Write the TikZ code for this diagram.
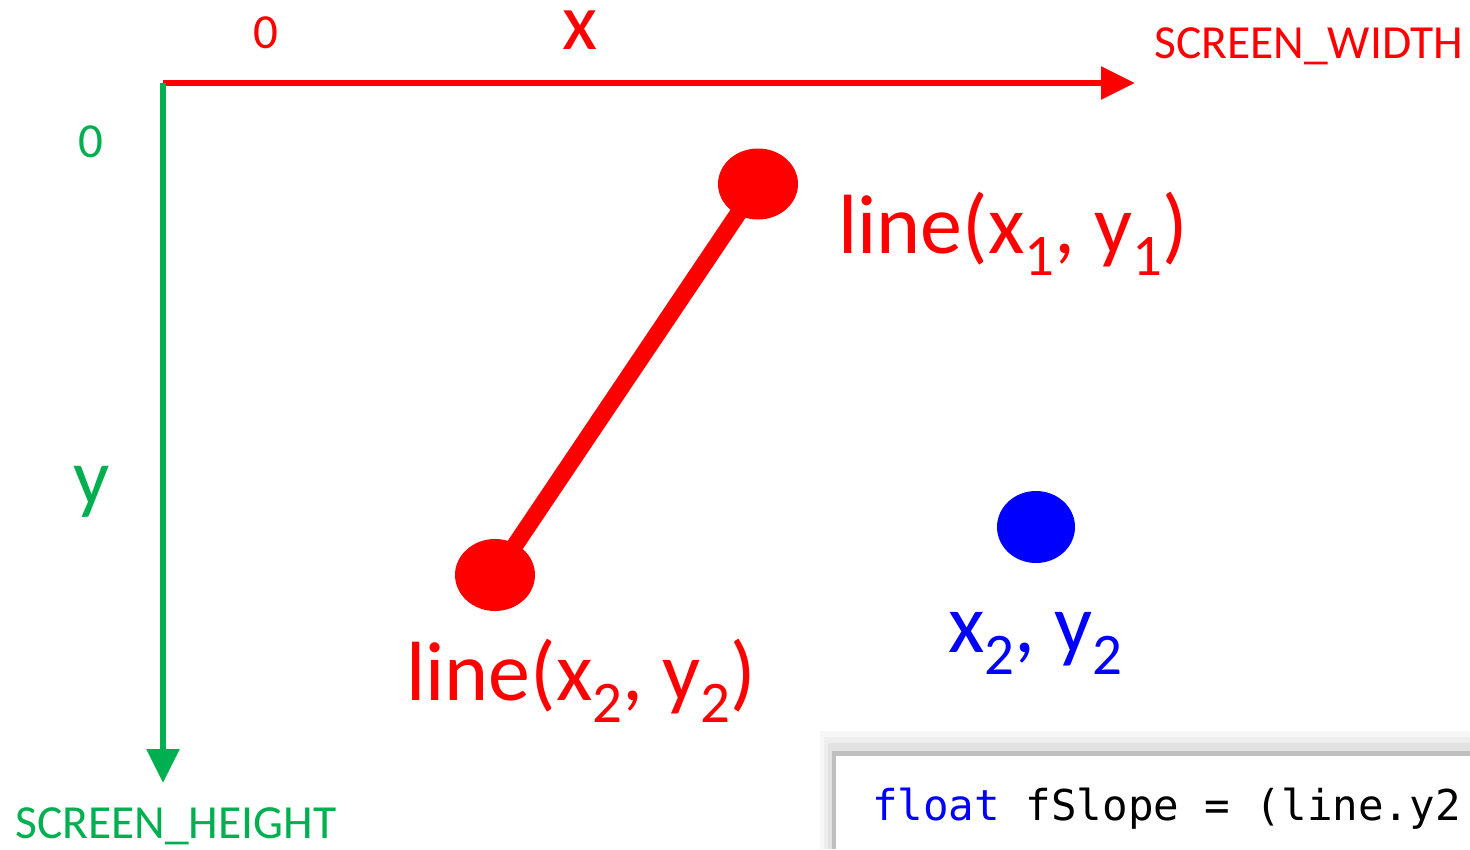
\documentclass[tikz,border=0pt]{standalone}
\usepackage{fontspec}
\setmainfont{Carlito}
\newfontfamily\codefont{DejaVu Sans Mono}
\usepackage{xcolor}
\usetikzlibrary{arrows.meta, positioning, shapes.geometric}
\definecolor{axisred}{RGB}{255,0,0}
\definecolor{axisgreen}{RGB}{0,176,80}
\definecolor{pointblue}{RGB}{0,0,255}
\newcommand{\lowsub}[1]{\raisebox{-22pt}{\fontsize{59}{59}\selectfont #1}}
\tikzset{
    lbl/.style={inner sep=0pt, anchor=base west},
    biglbl/.style={lbl, font=\fontsize{84}{92}\selectfont},
    smalllbl/.style={lbl, font=\fontsize{47.5}{52}\selectfont},
    endpt/.style={ellipse, fill, inner sep=0pt, minimum width=80pt, minimum height=71pt},
    axisarrow/.style={line width=5.5pt, -{Triangle[length=34pt,width=32pt]}}
}

\begin{document}
\begin{tikzpicture}[x=1pt, y=-1pt]
    \useasboundingbox (0,0) rectangle (1470,849);

    % axes
    \coordinate (origin) at (163,83);
    \coordinate (xend) at (1135,83);
    \coordinate (yend) at (163,783);
    \draw [axisarrow, axisred] (origin) -- (xend);
    \draw [axisarrow, axisgreen] (origin) -- (yend);

    \node (xzero) [anchor=base, inner sep=0pt, font=\fontsize{49}{52}\selectfont, axisred] at (266,48) {0};
    \node (xname) [anchor=base, inner sep=0pt, font=\fontsize{81}{90}\selectfont, axisred] at (580,49) {x};
    \node (xmax) [smalllbl, axisred] at (1154,58) {SCREEN\_WIDTH};
    \node (yzero) [anchor=base, inner sep=0pt, font=\fontsize{49}{52}\selectfont, axisgreen] at (91,157) {0};
    \node (yname) [anchor=base, inner sep=0pt, font=\fontsize{80}{90}\selectfont, axisgreen] at (92,504) {y};
    \node (ymax) [smalllbl, axisgreen] at (15,838) {SCREEN\_HEIGHT};

    % the line and its end points
    \node (ptone) [endpt, axisred] at (758,184) {};
    \node (pttwo) [endpt, axisred, minimum height=72pt] at (495,575) {};
    \draw [line width=17pt, axisred] (ptone.center) -- (pttwo.center);
    \node (ptblue) [endpt, pointblue, minimum width=78pt, minimum height=72pt] at (1036,527) {};

    \node (lblone) [biglbl, axisred] at (838,253) {line(x\lowsub{1}, y\lowsub{1})};
    \node (lbltwo) [biglbl, axisred] at (406,700) {line(x\lowsub{2}, y\lowsub{2})};
    \node (lblblue) [biglbl, pointblue] at (948,652) {x\lowsub{2}, y\lowsub{2}};

    % code window
    \fill [gray!6] (820,731) rectangle (1470,849);
    \fill [gray!13] (824,737) rectangle (1470,849);
    \fill [gray!22] (828,743) rectangle (1470,849);
    \fill [gray!50] (832,751) rectangle (1470,849);
    \fill [white] (836,756) rectangle (1470,849);
    \node (code) [lbl, font=\codefont\fontsize{42.5}{50}\selectfont] at (872,820) {\textcolor{pointblue}{float} fSlope = (line.y2};
\end{tikzpicture}
\end{document}
